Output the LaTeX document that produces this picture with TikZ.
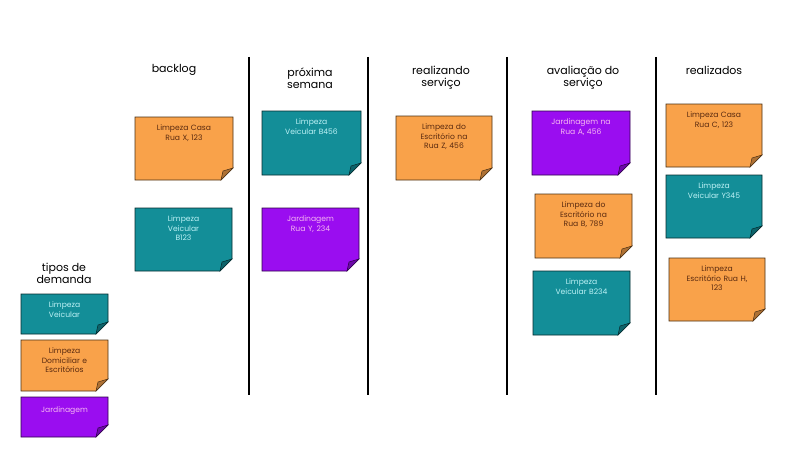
\documentclass[tikz,border=0pt]{standalone}
\usepackage{fontspec}
\setmainfont{Poppins}
\begin{document}
\definecolor{org}{HTML}{F9A24A}
\definecolor{orgt}{HTML}{5A2A10}
\definecolor{tea}{HTML}{138E98}
\definecolor{teat}{HTML}{BDF2F6}
\definecolor{pur}{HTML}{9A0DF0}
\definecolor{purt}{HTML}{F7B8F0}
\tikzset{
 hdr/.style={font=\fontsize{11}{12}\selectfont, align=center, text=black},
 col/.style={line width=2.4pt, black},
 ntxt/.style={font=\fontsize{7.6}{9.5}\selectfont, align=center, anchor=north, inner sep=0pt},
}
\newcommand{\stick}[8]{% name x1 y1 x2 y2 fill textcolor text
 \fill[#6, draw=black!70!#6, line width=0.6pt] (#2,#3) -- (#4,#3) -- (#4,#5-12) -- (#4-12,#5) -- (#2,#5) -- cycle;
 \fill[#6!70!black, draw=black!70!#6, line width=0.5pt] (#4,#5-12) -- (#4-10,#5-9) -- (#4-12,#5) -- cycle;
 \node[ntxt, text=#7, text width=(#4-#2-8)*1pt] (#1) at ({(#2+#4)/2},#3+8) {#8};
}
\begin{tikzpicture}[x=1pt,y=-1pt]
\useasboundingbox[fill=white] (0,0) rectangle (800,452);
\foreach \x/\n in {249/a,368/b,507/c,656/d} \draw[col] (\x,57) -- (\x,395) coordinate (l\n);
\node[hdr] (h1) at (174,70) {backlog};
\node[hdr] (h2) at (310,78) {próxima\\semana};
\node[hdr] (h3) at (441,78) {realizando\\serviço};
\node[hdr] (h4) at (583,78) {avaliação do\\serviço};
\node[hdr] (h5) at (714,70) {realizados};
\node[hdr] (h6) at (64,273) {tipos de\\demanda};
\stick{n1}{135}{117}{233}{180}{org}{orgt}{Limpeza Casa\\Rua X, 123}
\stick{n2}{135}{208}{232}{271}{tea}{teat}{Limpeza\\Veicular\\B123}
\stick{n3}{262}{111}{361}{175}{tea}{teat}{Limpeza\\Veicular B456}
\stick{n4}{262}{208}{359}{271}{pur}{purt}{Jardinagem\\Rua Y, 234}
\stick{n5}{396}{116}{492}{180}{org}{orgt}{Limpeza do\\Escritório na\\Rua Z, 456}
\stick{n6}{532}{111}{630}{175}{pur}{purt}{Jardinagem na\\Rua A, 456}
\stick{n7}{535}{194}{632}{258}{org}{orgt}{Limpeza do\\Escritório na\\Rua B, 789}
\stick{n8}{533}{271}{630}{335}{tea}{teat}{Limpeza\\Veicular B234}
\stick{n9}{666}{104}{762}{167}{org}{orgt}{Limpeza Casa\\Rua C, 123}
\stick{n10}{666}{175}{762}{238}{tea}{teat}{Limpeza\\Veicular Y345}
\stick{n11}{669}{258}{765}{321}{org}{orgt}{Limpeza\\Escritório Rua H,\\123}
\stick{k1}{21}{294}{108}{334}{tea}{teat}{Limpeza\\Veicular}
\stick{k2}{21}{340}{108}{391}{org}{orgt}{Limpeza\\Domiciliar e\\Escritórios}
\stick{k3}{21}{397}{108}{437}{pur}{purt}{\\[-2pt]Jardinagem}
\end{tikzpicture}
\end{document}
